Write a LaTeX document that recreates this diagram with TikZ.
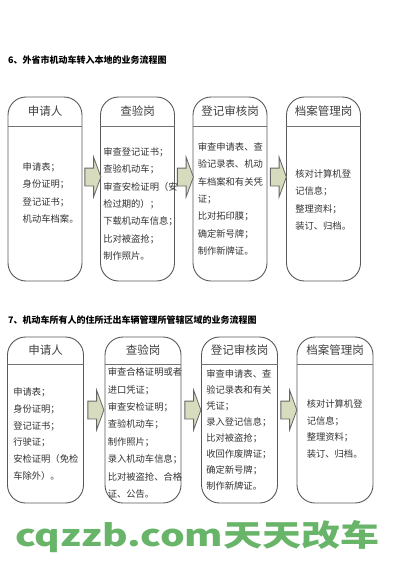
\documentclass[tikz,border=0pt]{standalone}
\usepackage{fontspec}
\setmainfont{Noto Sans CJK SC}
\usetikzlibrary{shapes.arrows,calc}
\definecolor{arrowfill}{RGB}{216,220,190}
\definecolor{wmgreen}{RGB}{104,180,104}

\begin{document}
\begin{tikzpicture}[x=1pt,y=-1pt,
    post/.style={draw=black!65,line width=0.9pt,rounded corners=18pt,fill=white,minimum width=74pt,inner sep=0pt},
    rowone/.style={post,minimum height=184pt},
    rowtwo/.style={post,minimum height=166pt,minimum width=76pt},
    sep/.style={draw=black!55,line width=1.8pt},
    head/.style={inner sep=0pt,font=\fontsize{11.5}{12}\selectfont,text=black!75},
    body/.style={anchor=north west,inner sep=0pt,align=left,text=black!80,font=\fontsize{9.3}{17.3}\selectfont},
    flow/.style={single arrow,draw=black!60,line width=0.8pt,fill=arrowfill,minimum height=16pt,inner sep=0pt,text height=17pt,text depth=0pt,single arrow head extend=11pt,single arrow tip angle=140},
    title/.style={anchor=west,inner sep=0pt,font=\fontsize{9}{10}\selectfont\bfseries}]
    \path[use as bounding box,fill=white] (0,0) rectangle (400,565);

    \node[title] (title1) at (8,60) {6、外省市机动车转入本地的业务流程图};
    \node[rowone] (apply1) at (45,189) {};
    \node[rowone] (check1) at (137.5,189) {};
    \node[rowone] (audit1) at (230,189) {};
    \node[rowone] (file1) at (323.5,189) {};
    \draw[sep] ([yshift=-30pt]apply1.north west) -- ([yshift=-30pt]apply1.north east);
    \draw[sep] ([yshift=-30pt]check1.north west) -- ([yshift=-30pt]check1.north east);
    \draw[sep] ([yshift=-30pt]audit1.north west) -- ([yshift=-30pt]audit1.north east);
    \draw[sep] ([yshift=-30pt]file1.north west) -- ([yshift=-30pt]file1.north east);
    \node[head] (apply1h) at ([yshift=-15pt]apply1.north) {申请人};
    \node[head] (check1h) at ([yshift=-15pt]check1.north) {查验岗};
    \node[head] (audit1h) at ([yshift=-15pt]audit1.north) {登记审核岗};
    \node[head] (file1h) at ([yshift=-15pt]file1.north) {档案管理岗};
    \node[body] (apply1t) at ([xshift=15pt,yshift=-66pt]apply1.north west) {申请表；\\身份证明；\\登记证书；\\机动车档案。};
    \node[body] (check1t) at ([xshift=3pt,yshift=-51pt]check1.north west) {审查登记证书；\\查验机动车；\\审查安检证明（安\\检过期的）；\\下载机动车信息；\\比对被盗抢；\\制作照片。};
    \node[body] (audit1t) at ([xshift=5pt,yshift=-46pt]audit1.north west) {审查申请表、查\\验记录表、机动\\车档案和有关凭\\证；\\比对拓印膜；\\确定新号牌；\\制作新牌证。};
    \node[body] (file1t) at ([xshift=9pt,yshift=-73pt]file1.north west) {核对计算机登\\记信息；\\整理资料；\\装订、归档。};
    \node[flow] (step11) at ($(apply1.east)!0.5!(check1.west)+(0,-12)$) {};
    \node[flow] (step12) at ($(check1.east)!0.5!(audit1.west)+(0,-12)$) {};
    \node[flow] (step13) at ($(audit1.east)!0.5!(file1.west)+(0,-12)$) {};

    \node[title] (title2) at (8,320) {7、机动车所有人的住所迁出车辆管理所管辖区域的业务流程图};
    \node[rowtwo] (apply2) at (45.5,420) {};
    \node[rowtwo] (check2) at (143,420) {};
    \node[rowtwo] (audit2) at (239.5,420) {};
    \node[rowtwo] (file2) at (335,420) {};
    \draw[sep] ([yshift=-28pt]apply2.north west) -- ([yshift=-28pt]apply2.north east);
    \draw[sep] ([yshift=-28pt]check2.north west) -- ([yshift=-28pt]check2.north east);
    \draw[sep] ([yshift=-28pt]audit2.north west) -- ([yshift=-28pt]audit2.north east);
    \draw[sep] ([yshift=-28pt]file2.north west) -- ([yshift=-28pt]file2.north east);
    \node[head] (apply2h) at ([yshift=-14pt]apply2.north) {申请人};
    \node[head] (check2h) at ([yshift=-14pt]check2.north) {查验岗};
    \node[head] (audit2h) at ([yshift=-14pt]audit2.north) {登记审核岗};
    \node[head] (file2h) at ([yshift=-14pt]file2.north) {档案管理岗};
    \node[body,font=\fontsize{9.3}{16.8}\selectfont] (apply2t) at ([xshift=6pt,yshift=-51pt]apply2.north west) {申请表；\\身份证明；\\登记证书；\\行驶证；\\安检证明（免检\\车除外）。};
    \node[body,font=\fontsize{9.3}{17.4}\selectfont] (check2t) at ([xshift=3pt,yshift=-31pt]check2.north west) {审查合格证明或者\\进口凭证；\\审查安检证明；\\查验机动车；\\制作照片；\\录入机动车信息；\\比对被盗抢、合格\\证、公告。};
    \node[body,font=\fontsize{9.3}{16}\selectfont] (audit2t) at ([xshift=5pt,yshift=-33pt]audit2.north west) {审查申请表、查\\验记录表和有关\\凭证；\\录入登记信息；\\比对被盗抢；\\收回作废牌证；\\确定新号牌；\\制作新牌证。};
    \node[body,font=\fontsize{9.3}{16.5}\selectfont] (file2t) at ([xshift=10pt,yshift=-63pt]file2.north west) {核对计算机登\\记信息；\\整理资料；\\装订、归档。};
    \node[flow] (step21) at ($(apply2.east)!0.5!(check2.west)+(0,-10)$) {};
    \node[flow] (step22) at ($(check2.east)!0.5!(audit2.west)+(0,-10)$) {};
    \node[flow] (step23) at ($(audit2.east)!0.5!(file2.west)+(0,-10)$) {};

    \node[anchor=west,inner sep=0pt,text=wmgreen,font=\fontsize{30}{30}\selectfont\bfseries] (mark) at (15,537) {\scalebox{1.3}[1]{cqzzb.com天天改车}};
\end{tikzpicture}
\end{document}
